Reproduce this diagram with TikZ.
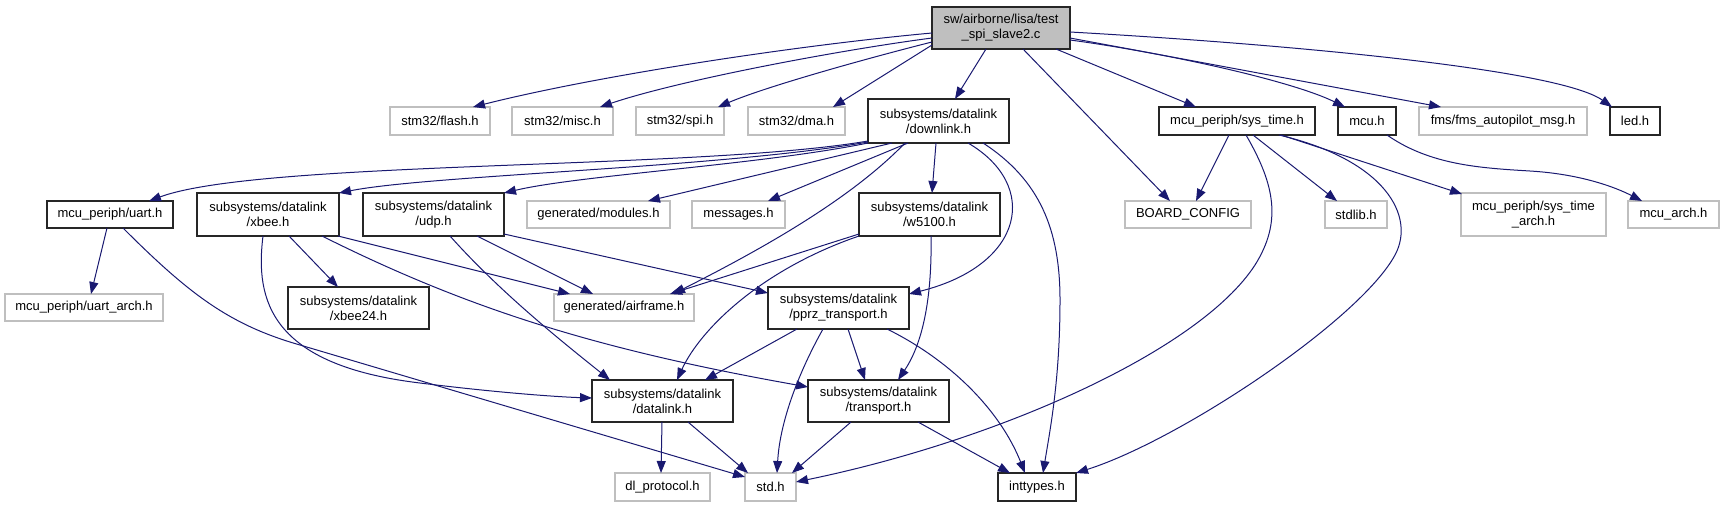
\documentclass[tikz,border=0pt]{standalone}
\usepackage{fontspec}
\setmainfont{Liberation Sans}
\usetikzlibrary{arrows.meta,calc}
\definecolor{edgec}{HTML}{191970}
\definecolor{grayb}{HTML}{BFBFBF}
\tikzset{
 nbase/.style={rectangle, inner sep=0pt, outer sep=0pt, align=center, font=\fontsize{9.75}{11.25}\selectfont, line width=0.8pt},
 docn/.style={nbase, draw=black!85},
 undoc/.style={nbase, draw=grayb},
 rootn/.style={nbase, draw=black!85, fill=grayb},
 dep/.style={draw=edgec, line width=0.75pt, -{Triangle[length=9pt,width=6.75pt]}},
}
\newcommand\gnode[7]{\node[#1, minimum width={(#4-#3)*0.75pt}, minimum height={(#6-#5)*0.75pt}] (#2) at ({(#3+#4)/2},{(#5+#6)/2}) {#7};}
\begin{document}
\begin{tikzpicture}[x=0.75pt, y=-0.75pt]
\useasboundingbox (0,0) rectangle (1723,507);
% row 0
\gnode{rootn}{root}{932}{1070}{7}{49}{sw/airborne/lisa/test\\\_spi\_slave2.c}
% row 1
\gnode{undoc}{flash}{390}{490}{107}{135}{stm32/flash.h}
\gnode{undoc}{misc}{512}{613}{107}{135}{stm32/misc.h}
\gnode{undoc}{spi}{636}{724}{107}{135}{stm32/spi.h}
\gnode{undoc}{dma}{748}{845}{107}{135}{stm32/dma.h}
\gnode{docn}{downlink}{868}{1009}{99}{143}{subsystems/datalink\\/downlink.h}
\gnode{docn}{systime}{1159}{1315}{107}{135}{mcu\_periph/sys\_time.h}
\gnode{docn}{mcu}{1338}{1396}{107}{135}{mcu.h}
\gnode{undoc}{fms}{1419}{1587}{107}{135}{fms/fms\_autopilot\_msg.h}
\gnode{docn}{led}{1610}{1660}{107}{135}{led.h}
% row 2
\gnode{docn}{uart}{47}{173}{201}{228}{mcu\_periph/uart.h}
\gnode{docn}{xbee}{197}{339}{193}{236}{subsystems/datalink\\/xbee.h}
\gnode{docn}{udp}{363}{504}{193}{236}{subsystems/datalink\\/udp.h}
\gnode{undoc}{modules}{527}{670}{201}{228}{generated/modules.h}
\gnode{undoc}{messages}{692}{785}{201}{228}{messages.h}
\gnode{docn}{w5100}{859}{1000}{193}{236}{subsystems/datalink\\/w5100.h}
\gnode{undoc}{board}{1125}{1251}{201}{228}{BOARD\_CONFIG}
\gnode{undoc}{stdlib}{1325}{1387}{201}{228}{stdlib.h}
\gnode{undoc}{sta}{1461}{1606}{193}{236}{mcu\_periph/sys\_time\\\_arch.h}
\gnode{undoc}{mcuarch}{1628}{1719}{201}{228}{mcu\_arch.h}
% row 3
\gnode{undoc}{uartarch}{5}{163}{294}{321}{mcu\_periph/uart\_arch.h}
\gnode{docn}{xbeetf}{288}{429}{287}{329}{subsystems/datalink\\/xbee24.h}
\gnode{undoc}{airframe}{554}{694}{294}{321}{generated/airframe.h}
\gnode{docn}{pprz}{768}{909}{287}{329}{subsystems/datalink\\/pprz\_transport.h}
% row 4
\gnode{docn}{datalink}{592}{733}{380}{422}{subsystems/datalink\\/datalink.h}
\gnode{docn}{transport}{808}{949}{380}{422}{subsystems/datalink\\/transport.h}
% row 5
\gnode{undoc}{dlproto}{615}{710}{473}{501}{dl\_protocol.h}
\gnode{undoc}{std}{745}{796}{473}{501}{std.h}
\gnode{docn}{inttypes}{998}{1076}{473}{501}{inttypes.h}

% root edges
\draw[dep] ($(root.north west)+(0,26)$) .. controls (800,45) and (600,75) .. ($(flash.north west)+(83,0)$);
\draw[dep] ($(root.north west)+(0,31)$) .. controls (840,50) and (680,80) .. ($(misc.north west)+(88,0)$);
\draw[dep] ($(root.north west)+(0,35)$) .. controls (880,55) and (770,85) .. ($(spi.north west)+(82,0)$);
\draw[dep] ($(root.north west)+(0,38)$) -- ($(dma.north west)+(85,0)$);
\draw[dep] ($(root.north west)+(54,42)$) -- ($(downlink.north west)+(87,0)$);
\draw[dep] ($(root.north west)+(91,42)$) -- ($(board.north west)+(45,0)$);
\draw[dep] ($(root.north west)+(124,42)$) -- ($(systime.north west)+(37,0)$);
\draw[dep] ($(root.north west)+(138,33)$) .. controls (1160,52) and (1290,80) .. ($(mcu.north west)+(7,0)$);
\draw[dep] ($(root.north west)+(138,31)$) -- ($(fms.north west)+(22,0)$);
\draw[dep] ($(root.north west)+(138,25)$) .. controls (1300,45) and (1560,70) .. ($(led.north west)+(2,0)$);

% downlink edges
\draw[dep] ($(downlink.north west)+(0,42)$) .. controls (700,170) and (260,160) .. ($(uart.north west)+(102,0)$);
\draw[dep] ($(downlink.north west)+(0,43)$) .. controls (720,168) and (430,175) .. ($(xbee.north west)+(142,0)$);
\draw[dep] ($(downlink.north west)+(0,44)$) .. controls (760,165) and (580,175) .. ($(udp.north west)+(141,0)$);
\draw[dep] ($(downlink.north west)+(24,44)$) -- ($(modules.north west)+(121,0)$);
\draw[dep] ($(downlink.north west)+(40,44)$) -- ($(messages.north west)+(76,0)$);
\draw[dep] ($(downlink.north west)+(68,44)$) -- ($(w5100.north west)+(73,0)$);
\draw[dep] ($(downlink.north west)+(37,44)$) .. controls (850,200) and (760,250) .. ($(airframe.north west)+(119,0)$);
\draw[dep] ($(downlink.north west)+(100,44)$) .. controls (1040,185) and (1025,265) .. ($(pprz.north west)+(141,7)$);
\draw[dep] ($(downlink.north west)+(115,44)$) .. controls (1040,180) and (1060,230) .. (1060,300) .. controls (1060,380) and (1050,430) .. ($(inttypes.north west)+(45,0)$);

% sys_time edges
\draw[dep] ($(systime.north west)+(70,28)$) -- ($(board.north west)+(71,0)$);
\draw[dep] ($(systime.north west)+(94,28)$) -- ($(stdlib.north west)+(12,0)$);
\draw[dep] ($(systime.north west)+(122,28)$) -- ($(sta.north west)+(1,1)$);
\draw[dep] ($(systime.north west)+(87,28)$) .. controls (1275,185) and (1282,222) .. (1255,265) .. controls (1200,350) and (1000,440) .. ($(std.north west)+(51,9)$);
\draw[dep] ($(systime.north west)+(120,28)$) .. controls (1385,160) and (1416,216) .. (1395,255) .. controls (1360,320) and (1180,440) .. ($(inttypes.north west)+(78,0)$);

% mcu
\draw[dep] ($(mcu.north west)+(49,28)$) .. controls (1430,165) and (1480,168) .. (1530,171) .. controls (1580,174) and (1615,187) .. ($(mcuarch.north west)+(14,0)$);

% uart
\draw[dep] ($(uart.north west)+(60,27)$) -- ($(uartarch.north west)+(86,0)$);
\draw[dep] ($(uart.north west)+(76,27)$) .. controls (190,295) and (230,325) .. (300,345) -- ($(std.north west)+(0,4)$);

% xbee
\draw[dep] ($(xbee.north west)+(92,43)$) -- ($(xbeetf.north west)+(50,0)$);
\draw[dep] ($(xbee.north west)+(141,43)$) -- ($(airframe.north west)+(16,0)$);
\draw[dep] ($(xbee.north west)+(125,43)$) .. controls (470,310) and (600,350) .. ($(transport.north west)+(0,7)$);
\draw[dep] ($(xbee.north west)+(66,43)$) .. controls (255,300) and (270,365) .. (420,383) .. controls (500,393) and (560,397) .. ($(datalink.north west)+(0,18)$);

% udp
\draw[dep] ($(udp.north west)+(114,43)$) -- ($(airframe.north west)+(39,0)$);
\draw[dep] ($(udp.north west)+(87,43)$) .. controls (500,292) and (560,340) .. ($(datalink.north west)+(18,0)$);
\draw[dep] ($(udp.north west)+(141,41)$) -- ($(pprz.north west)+(0,6)$);

% w5100
\draw[dep] ($(w5100.north west)+(0,41)$) -- ($(airframe.north west)+(116,0)$);
\draw[dep] ($(w5100.north west)+(0,43)$) .. controls (760,270) and (700,330) .. ($(datalink.north west)+(85,0)$);
\draw[dep] ($(w5100.north west)+(72,43)$) .. controls (932,290) and (925,340) .. ($(transport.north west)+(90,0)$);

% pprz
\draw[dep] ($(pprz.north west)+(29,42)$) -- ($(datalink.north west)+(113,0)$);
\draw[dep] ($(pprz.north west)+(55,42)$) .. controls (800,370) and (780,420) .. ($(std.north west)+(32,0)$);
\draw[dep] ($(pprz.north west)+(80,42)$) -- ($(transport.north west)+(57,0)$);
\draw[dep] ($(pprz.north west)+(119,42)$) .. controls (950,360) and (1000,410) .. ($(inttypes.north west)+(27,0)$);

% datalink / transport
\draw[dep] ($(datalink.north west)+(70,42)$) -- ($(dlproto.north west)+(46,0)$);
\draw[dep] ($(datalink.north west)+(96,42)$) -- ($(std.north west)+(3,0)$);
\draw[dep] ($(transport.north west)+(43,42)$) -- ($(std.north west)+(47,0)$);
\draw[dep] ($(transport.north west)+(110,42)$) -- ($(inttypes.north west)+(12,0)$);
\end{tikzpicture}
\end{document}
